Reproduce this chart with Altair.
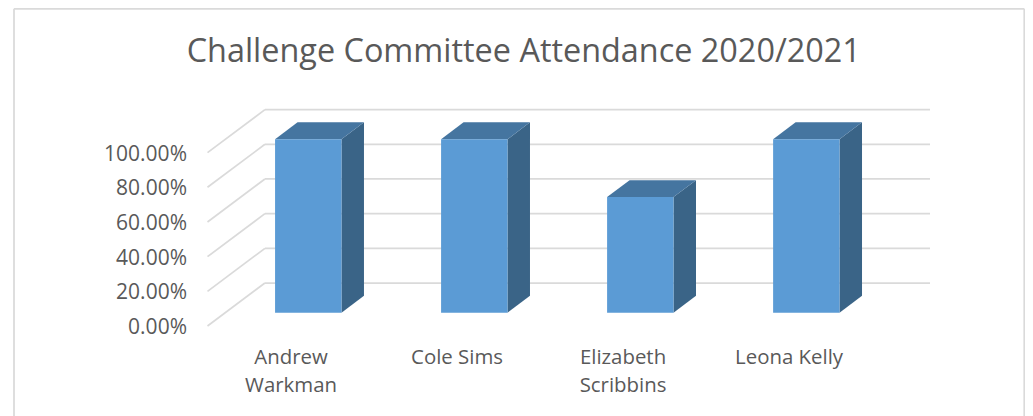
import altair as alt
import pandas as pd

names = ["Andrew\nWarkman", "Cole Sims", "Elizabeth\nScribbins", "Leona Kelly"]
attendance = [1.0, 1.0, 0.6667, 1.0]
ticks = [0.0, 0.2, 0.4, 0.6, 0.8, 1.0]
title_text = "Challenge Committee Attendance 2020/2021"

# oblique-projection layout, in data units
X_MAX = 4.352        # x extent, one unit per category
Y_MAX = 1.25
WALL_DX, WALL_DY = 0.346, 0.248
BAR_HALF = 0.2
BAR_CENTER = 0.607
BAR_BASE = 0.0767
BAR_DX, BAR_DY = 0.1355, 0.098

LEFT, TOP, PW, PH = 199.5, 101.3, 722.5, 216.7
RIGHT, BOTTOM = 95, 90

grid = pd.DataFrame({
    "x0": [0.0] * len(ticks), "x1": [WALL_DX] * len(ticks), "x2": [X_MAX] * len(ticks),
    "y0": ticks, "y1": [t + WALL_DY for t in ticks],
})

front, side, top, labels = [], [], [], []
for i, (n, v) in enumerate(zip(names, attendance)):
    c = BAR_CENTER + i
    l, r = c - BAR_HALF, c + BAR_HALF
    base, tp = BAR_BASE, BAR_BASE + v
    front.append(dict(bar=i, l=l, r=r, base=base, top=tp))
    side += [dict(bar=i, x=r, lo=base, hi=tp),
             dict(bar=i, x=r + BAR_DX, lo=base + BAR_DY, hi=tp + BAR_DY)]
    top += [dict(bar=i, x=l, lo=tp, hi=tp),
            dict(bar=i, x=l + BAR_DX, lo=tp, hi=tp + BAR_DY),
            dict(bar=i, x=r, lo=tp, hi=tp + BAR_DY),
            dict(bar=i, x=r + BAR_DX, lo=tp + BAR_DY, hi=tp + BAR_DY)]
    labels.append(dict(name=n, x=i + 0.503))

GRID = "#DADADA"
TEXT = "#595959"
FONT = "Open Sans"
LW = 1.75

xs = alt.Scale(domain=[0, X_MAX], nice=False, zero=False)
ys = alt.Scale(domain=[0, Y_MAX], nice=False, zero=False)
y_axis = alt.Axis(values=ticks, format=".2%", grid=False, ticks=False, domain=False,
                  title=None, labelFont=FONT, labelFontSize=21, labelColor=TEXT,
                  labelPadding=21, labelOffset=1.5)
X = lambda f: alt.X(f, type="quantitative", scale=xs, axis=None)
Y = lambda f: alt.Y(f, type="quantitative", scale=ys, axis=y_axis)

diag = alt.Chart(grid).mark_rule(color=GRID, strokeWidth=LW).encode(
    x=X("x0"), x2="x1", y=Y("y0"), y2="y1")
back = alt.Chart(grid).mark_rule(color=GRID, strokeWidth=LW).encode(
    x=X("x1"), x2="x2", y=Y("y1"))

side_l = alt.Chart(pd.DataFrame(side)).mark_area(color="#3A6487").encode(
    x=X("x"), y=Y("lo"), y2="hi", detail="bar:N")
top_l = alt.Chart(pd.DataFrame(top)).mark_area(color="#4575A0").encode(
    x=X("x"), y=Y("lo"), y2="hi", detail="bar:N")
front_l = alt.Chart(pd.DataFrame(front)).mark_rect(color="#5B9BD5").encode(
    x=X("l"), x2="r", y=Y("base"), y2="top")

text_l = alt.Chart(pd.DataFrame(labels)).mark_text(
    font=FONT, fontSize=20.4, color=TEXT, align="center", baseline="middle",
    lineBreak="\n", lineHeight=28).encode(
    x=X("x"), y=alt.value(248.7), text="name:N")

one = pd.DataFrame({"a": [0]})
frame_x0 = 14 - 8 - LEFT
frame_x1 = LEFT + PW + RIGHT - 0.75 - LEFT
frame_left = alt.Chart(one).mark_rule(color=GRID, strokeWidth=LW).encode(
    x=alt.value(frame_x0), y=alt.value(0.75 - TOP), y2=alt.value(PH + BOTTOM))
frame_right = alt.Chart(one).mark_rule(color=GRID, strokeWidth=LW).encode(
    x=alt.value(frame_x1), y=alt.value(0.75 - TOP), y2=alt.value(PH + BOTTOM))
frame_top = alt.Chart(one).mark_rule(color=GRID, strokeWidth=LW).encode(
    x=alt.value(frame_x0), x2=alt.value(frame_x1), y=alt.value(0.75 - TOP))

chart = alt.layer(frame_left, frame_right, frame_top, diag, back, side_l, top_l, front_l, text_l).properties(
    width=PW, height=PH,
    title=alt.TitleParams(title_text, font=FONT, fontSize=32.4, fontWeight="normal", color=TEXT,
                          anchor="middle", dx=-45, offset=-61),
    autosize=alt.AutoSizeParams(type="none"),
    padding={"left": LEFT, "top": TOP, "right": RIGHT, "bottom": BOTTOM},
).configure_view(stroke=None)

chart.save("out.html", embed_options={"renderer": "svg", "actions": False})
